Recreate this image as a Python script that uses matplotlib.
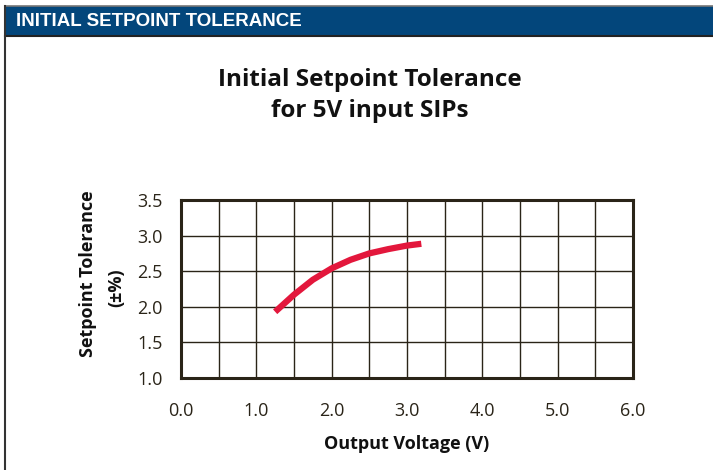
import matplotlib.pyplot as plt
from matplotlib.patches import Rectangle
from matplotlib.lines import Line2D

# data
volt = [1.25, 1.5, 1.75, 2.0, 2.25, 2.5, 2.75, 3.0, 3.19]
tol = [1.93, 2.17, 2.38, 2.54, 2.66, 2.75, 2.81, 2.86, 2.885]
xticks = [0, 1, 2, 3, 4, 5, 6]
yticks = [1.0, 1.5, 2.0, 2.5, 3.0, 3.5]

ink = '#2a2418'
plt.rcParams['font.family'] = ['Open Sans', 'DejaVu Sans']

fig = plt.figure(figsize=(7.13, 4.70), dpi=100)
W, H = 713, 470

# header bar + left frame line
fig.patches.append(Rectangle((5 / W, 1 - 36 / H), 1, 30 / H, transform=fig.transFigure,
                             facecolor='#03467b', edgecolor='none'))
fig.lines.append(Line2D([5 / W, 1], [1 - 6 / H, 1 - 6 / H], transform=fig.transFigure, color='#777777', lw=1.2))
fig.lines.append(Line2D([5 / W, 1], [1 - 36 / H, 1 - 36 / H], transform=fig.transFigure, color='#222222', lw=1.5))
fig.lines.append(Line2D([5 / W, 5 / W], [0, 1 - 6 / H], transform=fig.transFigure, color='#333333', lw=1.5))
fig.text(16 / W, 1 - 21 / H, 'INITIAL SETPOINT TOLERANCE', color='white', fontsize=13.5, fontweight='bold',
         family=['Liberation Sans', 'DejaVu Sans'], va='center', ha='left')

# titles
fig.text(370 / W, 1 - 80 / H, 'Initial Setpoint Tolerance', ha='center', va='center', fontsize=17.5, fontweight='bold', color='#111111')
fig.text(370 / W, 1 - 111 / H, 'for 5V input SIPs', ha='center', va='center', fontsize=17.5, fontweight='bold', color='#111111')

ax = fig.add_axes([181 / W, 1 - 378 / H, (633 - 181) / W, (378 - 200) / H])
ax.plot(volt, tol, color='#e3173c', lw=4.5, solid_capstyle='butt', solid_joinstyle='round')
ax.set_xlim(0, 6)
ax.set_ylim(1.0, 3.5)
ax.set_xticks(xticks)
ax.set_xticks([i * 0.5 for i in range(13)], minor=True)
ax.set_yticks(yticks)
ax.grid(True, color=ink, lw=1)
ax.grid(True, which='minor', axis='x', color=ink, lw=1)
ax.tick_params(which='both', length=0)
ax.tick_params(axis='x', labelsize=13, colors=ink, pad=17)
ax.tick_params(axis='y', labelsize=13, colors=ink, pad=13)
ax.set_xticklabels(['%.1f' % v for v in xticks])
ax.set_yticklabels(['%.1f' % v for v in yticks])
for s in ax.spines.values():
    s.set_color(ink)
    s.set_linewidth(2.2)

ax.set_xlabel('Output Voltage (V)', fontsize=13, fontweight='bold', color='#111111', labelpad=11)
fig.text(88 / W, 1 - 274 / H, 'Setpoint Tolerance', rotation=90, ha='center', va='center', fontsize=13, fontweight='bold', color='#111111')
fig.text(116 / W, 1 - 288 / H, '(±%)', rotation=90, ha='center', va='center', fontsize=13, fontweight='bold', color='#111111')

fig.savefig('out.png', dpi=100)
